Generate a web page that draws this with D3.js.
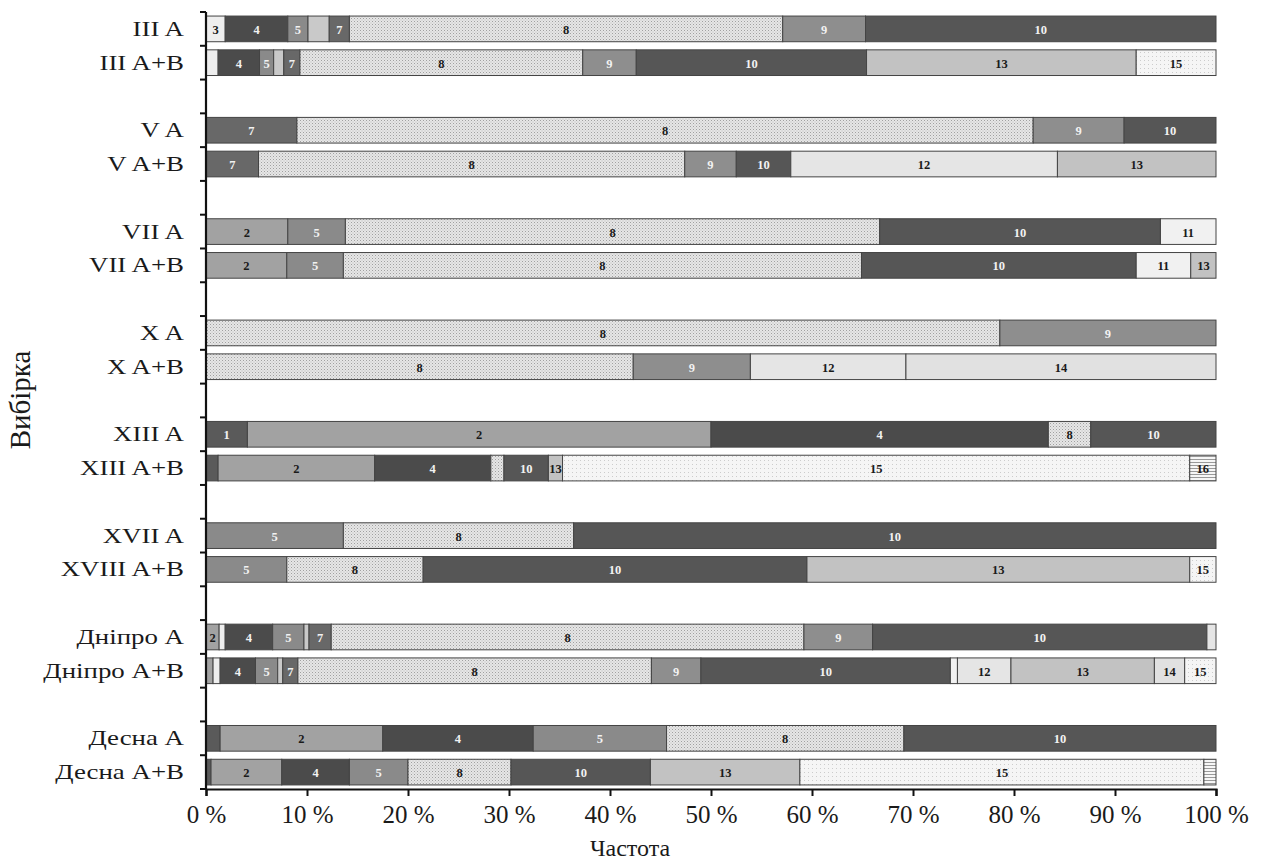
<!DOCTYPE html>
<meta charset="utf-8">
<style>
body { margin: 0; background: #fff; }
text { font-family: "Liberation Serif", "DejaVu Serif", serif; }
.seglabel { font-size: 12.5px; font-weight: bold; }
.axis path, .axis line { stroke: #111; }
</style>
<svg width="1266" height="862"></svg>
<script src="https://d3js.org/d3.v7.min.js"></script>
<script>

// samples, top to bottom (null = empty slot between groups)
var slots = ["III A", "III A+B", null, "V A", "V A+B", null, "VII A", "VII A+B", null,
             "X A", "X A+B", null, "XIII A", "XIII A+B", null, "XVII A", "XVIII A+B", null,
             "Дніпро A", "Дніпро A+B", null, "Десна A", "Десна A+B"];

var haplotypes = [1, 2, 3, 4, 5, 6, 7, 8, 9, 10, 11, 12, 13, 14, 15, 16];

// haplotypes present in each sample and their frequencies (%)
var rowHaps = {
  "III A":      [3, 4, 5, 6, 7, 8, 9, 10],
  "III A+B":    [3, 4, 5, 6, 7, 8, 9, 10, 13, 15],
  "V A":        [7, 8, 9, 10],
  "V A+B":      [7, 8, 9, 10, 12, 13],
  "VII A":      [2, 5, 8, 10, 11],
  "VII A+B":    [2, 5, 8, 10, 11, 13],
  "X A":        [8, 9],
  "X A+B":      [8, 9, 12, 14],
  "XIII A":     [1, 2, 4, 8, 10],
  "XIII A+B":   [1, 2, 4, 8, 10, 13, 15, 16],
  "XVII A":     [5, 8, 10],
  "XVIII A+B":  [5, 8, 10, 13, 15],
  "Дніпро A":   [2, 3, 4, 5, 6, 7, 8, 9, 10, 12],
  "Дніпро A+B": [2, 3, 4, 5, 6, 7, 8, 9, 10, 11, 12, 13, 14, 15],
  "Десна A":    [1, 2, 4, 5, 8, 10],
  "Десна A+B":  [1, 2, 4, 5, 8, 10, 13, 15, 16]
};
var rowValues = {
  "III A":      [1.9, 6.2, 2.0, 2.1, 2.0, 42.9, 8.2, 34.7],
  "III A+B":    [1.2, 4.1, 1.4, 1.0, 1.6, 28.0, 5.3, 22.8, 26.7, 7.9],
  "V A":        [9.0, 72.9, 9.0, 9.1],
  "V A+B":      [5.2, 42.2, 5.1, 5.4, 26.4, 15.7],
  "VII A":      [8.1, 5.7, 52.9, 27.8, 5.5],
  "VII A+B":    [8.0, 5.6, 51.3, 27.2, 5.4, 2.5],
  "X A":        [78.6, 21.4],
  "X A+B":      [42.3, 11.6, 15.4, 30.7],
  "XIII A":     [4.1, 45.9, 33.4, 4.2, 12.4],
  "XIII A+B":   [1.2, 15.5, 11.5, 1.3, 4.4, 1.4, 62.1, 2.6],
  "XVII A":     [13.6, 22.8, 63.6],
  "XVIII A+B":  [8.0, 13.5, 38.0, 37.9, 2.6],
  "Дніпро A":   [1.3, 0.6, 4.7, 3.1, 0.5, 2.2, 46.8, 6.8, 33.1, 0.9],
  "Дніпро A+B": [0.7, 0.7, 3.5, 2.2, 0.5, 1.5, 35.0, 4.9, 24.7, 0.7, 5.3, 14.2, 3.0, 3.1],
  "Десна A":    [1.4, 16.1, 14.9, 13.2, 23.5, 30.9],
  "Десна A+B":  [0.5, 7.0, 6.7, 5.8, 10.2, 13.8, 14.8, 40.0, 1.2]
};

// segments drawn without a number
var unlabeled = ["III A|6", "III A+B|3", "III A+B|6", "XIII A+B|1", "XIII A+B|8",
                 "Дніпро A|3", "Дніпро A|6", "Дніпро A|12",
                 "Дніпро A+B|2", "Дніпро A+B|3", "Дніпро A+B|6", "Дніпро A+B|11",
                 "Десна A|1", "Десна A+B|1", "Десна A+B|16"];

var xTicks = [0, 10, 20, 30, 40, 50, 60, 70, 80, 90, 100];

var svg = d3.select("svg");

var defs = svg.append("defs");
var dots = defs.append("pattern").attr("id", "dots8").attr("patternUnits", "userSpaceOnUse")
    .attr("width", 3).attr("height", 3);
dots.append("rect").attr("width", 3).attr("height", 3).attr("fill", "#e6e6e6");
dots.append("rect").attr("width", 1).attr("height", 1).attr("fill", "#a0a0a0");
dots.append("rect").attr("x", 1.5).attr("y", 1.5).attr("width", 1).attr("height", 1).attr("fill", "#bdbdbd");

var dots15 = defs.append("pattern").attr("id", "dots15").attr("patternUnits", "userSpaceOnUse")
    .attr("width", 4).attr("height", 4);
dots15.append("rect").attr("width", 4).attr("height", 4).attr("fill", "#f5f5f5");
dots15.append("rect").attr("width", 1).attr("height", 1).attr("fill", "#cccccc");

var lines16 = defs.append("pattern").attr("id", "lines16").attr("patternUnits", "userSpaceOnUse")
    .attr("width", 4).attr("height", 3);
lines16.append("rect").attr("width", 4).attr("height", 3).attr("fill", "#f6f6f6");
lines16.append("rect").attr("width", 4).attr("height", 1).attr("fill", "#999");

var fills = {
  1: "#5a5a5a", 2: "#a2a2a2", 3: "#eeeeee", 4: "#4b4b4b", 5: "#8a8a8a", 6: "#c9c9c9",
  7: "#686868", 8: "url(#dots8)", 9: "#8e8e8e", 10: "#565656", 11: "#f1f1f1",
  12: "#e5e5e5", 13: "#c2c2c2", 14: "#e1e1e1", 15: "url(#dots15)", 16: "url(#lines16)"
};
var lightText = [1, 4, 5, 7, 9, 10];

var x = d3.scaleLinear().domain([0, 100]).range([206, 1216]);
var slotKeys = slots.map(function(d, i) { return d === null ? "gap" + i : d; });
var y = d3.scaleBand().domain(slotKeys).range([12, 789]);
var barH = y.bandwidth() * 0.76,
    barOff = (y.bandwidth() - barH) / 2;

var rows = slots.filter(function(d) { return d !== null; });
var table = rows.map(function(name) {
  var o = { name: name };
  haplotypes.forEach(function(h) { o[h] = 0; });
  rowHaps[name].forEach(function(h, i) { o[h] = rowValues[name][i]; });
  return o;
});

var series = d3.stack().keys(haplotypes)(table);

var layer = svg.append("g").selectAll("g")
  .data(series)
  .enter().append("g");

var seg = layer.selectAll("g")
  .data(function(s) {
    return s.filter(function(d) { return d[1] - d[0] > 0; })
            .map(function(d) { return { hap: s.key, x0: d[0], x1: d[1], name: d.data.name }; });
  })
  .enter().append("g");

seg.append("rect")
    .attr("x", function(d) { return x(d.x0); })
    .attr("y", function(d) { return y(d.name) + barOff; })
    .attr("width", function(d) { return x(d.x1) - x(d.x0); })
    .attr("height", barH)
    .attr("fill", function(d) { return fills[d.hap]; })
    .attr("stroke", "#444")
    .attr("stroke-width", 1);

seg.filter(function(d) { return unlabeled.indexOf(d.name + "|" + d.hap) < 0; })
  .append("text")
    .attr("class", "seglabel")
    .attr("x", function(d) { return x((d.x0 + d.x1) / 2); })
    .attr("y", function(d) { return y(d.name) + y.bandwidth() / 2 + 1; })
    .attr("text-anchor", "middle")
    .attr("dominant-baseline", "central")
    .attr("fill", function(d) { return lightText.indexOf(d.hap) >= 0 ? "#f2f2f2" : "#1a1a1a"; })
    .text(function(d) { return d.hap; });

// x axis
var xAxis = svg.append("g")
    .attr("class", "axis")
    .attr("transform", "translate(0,789)")
    .call(d3.axisBottom(x).tickValues(xTicks).tickSize(7).tickPadding(9)
      .tickFormat(function(d) { return d + " %"; }));
xAxis.select(".domain").attr("stroke-width", 2.2);
xAxis.selectAll(".tick line").attr("stroke-width", 2);
xAxis.selectAll("text").style("font-family", "'Liberation Serif', serif")
    .style("font-size", "25px").attr("fill", "#1a1a1a");

// y axis: line with ticks at slot boundaries
var yAxis = svg.append("g").attr("class", "axis");
yAxis.append("line")
    .attr("x1", x(0)).attr("x2", x(0))
    .attr("y1", y.range()[0]).attr("y2", y.range()[1])
    .attr("stroke-width", 2.2);
var bounds = slotKeys.map(function(k) { return y(k); }).concat([y.range()[1]]);
yAxis.selectAll(".ytick")
  .data(bounds)
  .enter().append("line")
    .attr("x1", x(0) - 6).attr("x2", x(0))
    .attr("y1", function(d) { return d; }).attr("y2", function(d) { return d; })
    .attr("stroke-width", 2);

yAxis.selectAll(".ylab")
  .data(rows)
  .enter().append("text")
    .attr("transform", function(d) {
      return "translate(184," + (y(d) + y.bandwidth() / 2) + ") scale(1.28,1)";
    })
    .attr("text-anchor", "end")
    .attr("dominant-baseline", "central")
    .style("font-size", "21px")
    .attr("fill", "#1a1a1a")
    .text(function(d) { return d; });

svg.append("text")
    .attr("transform", "translate(20,400) rotate(-90)")
    .attr("text-anchor", "middle")
    .attr("dominant-baseline", "central")
    .style("font-size", "29px")
    .attr("fill", "#1a1a1a")
    .text("Вибірка");

svg.append("text")
    .attr("x", 630).attr("y", 848)
    .attr("text-anchor", "middle")
    .attr("dominant-baseline", "central")
    .style("font-size", "24px")
    .attr("fill", "#1a1a1a")
    .text("Частота");

</script>
